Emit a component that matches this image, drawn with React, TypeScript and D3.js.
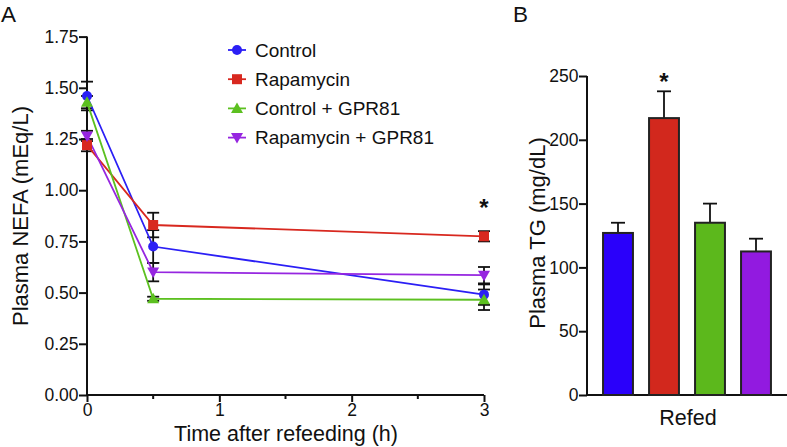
import * as d3 from "d3";
import { useEffect, useRef } from "react";

// panel A data
const times = [0, 0.5, 3];
const seriesNames = ["Control", "Rapamycin", "Control + GPR81", "Rapamycin + GPR81"];
const seriesColors = ["#2b1ff5", "#d8281f", "#5cc020", "#9626e0"];
const controlMean = [1.46, 0.725, 0.49];
const controlErr = [0.07, 0.08, 0.05];
const rapaMean = [1.22, 0.83, 0.775];
const rapaErr = [0.03, 0.06, 0.025];
const gprMean = [1.43, 0.47, 0.465];
const gprErr = [0.03, 0.01, 0.05];
const rapaGprMean = [1.265, 0.6, 0.585];
const rapaGprErr = [0.025, 0.045, 0.04];
const yTicksA = [0, 0.25, 0.5, 0.75, 1.0, 1.25, 1.5, 1.75];
const xTicksA = [0, 1, 2, 3];
const xMinorA = [0.5, 1.5, 2.5];

// panel B data
const barGroups = ["Control", "Rapamycin", "Control + GPR81", "Rapamycin + GPR81"];
const barValues = [127, 217, 135, 112.5];
const barErr = [8, 21, 15, 10];
const barColors = ["#2a00fa", "#d2281d", "#5cb81c", "#921ae0"];
const yTicksB = [0, 50, 100, 150, 200, 250];

const FONT = "'Liberation Sans', Arial, sans-serif";

export default function App() {
  const ref = useRef<SVGSVGElement>(null);

  useEffect(() => {
    const svg = d3.select(ref.current);
    svg.selectAll("*").remove();
    svg.style("font-family", FONT);

    // ---------- panel A ----------
    const x = d3.scaleLinear().domain([0, 3]).range([87, 484]);
    const y = d3.scaleLinear().domain([0, 1.75]).range([395, 36.6]);

    const gA = svg.append("g");
    const yAxis = d3.axisLeft(y).tickValues(yTicksA).tickFormat(d3.format(".2f")).tickSize(8).tickSizeOuter(0);
    gA.append("g")
      .attr("transform", "translate(87,0)")
      .call(yAxis)
      .call((g) => g.select(".domain").attr("stroke", "#111").attr("stroke-width", 2).attr("d", `M0,${y(0)}V${y(1.75)}`))
      .call((g) => g.selectAll(".tick line").attr("stroke", "#111").attr("stroke-width", 2))
      .call((g) => g.selectAll(".tick text").attr("font-size", 17.5).attr("font-family", FONT).attr("fill", "#111").attr("x", -8.5));

    const xAxis = d3.axisBottom(x).tickValues(xTicksA).tickFormat(d3.format("d")).tickSize(7).tickSizeOuter(0);
    gA.append("g")
      .attr("transform", "translate(0,395)")
      .call(xAxis)
      .call((g) => g.select(".domain").attr("stroke", "#111").attr("stroke-width", 2).attr("d", `M${x(0)},0H${x(3)}`))
      .call((g) => g.selectAll(".tick line").attr("stroke", "#111").attr("stroke-width", 2))
      .call((g) => g.selectAll(".tick text").attr("font-size", 17.5).attr("font-family", FONT).attr("fill", "#111").attr("y", 9));
    gA.append("g")
      .selectAll("line")
      .data(xMinorA)
      .join("line")
      .attr("x1", (d) => x(d))
      .attr("x2", (d) => x(d))
      .attr("y1", 395)
      .attr("y2", 399)
      .attr("stroke", "#111")
      .attr("stroke-width", 2);

    gA.append("text")
      .attr("x", 286)
      .attr("y", 441)
      .attr("text-anchor", "middle")
      .attr("font-size", 21.5)
      .attr("fill", "#111")
      .text("Time after refeeding (h)");
    gA.append("text")
      .attr("transform", "translate(28,216) rotate(-90)")
      .attr("text-anchor", "middle")
      .attr("font-size", 22)
      .attr("fill", "#111")
      .text("Plasma NEFA (mEq/L)");
    svg.append("text").attr("x", 1).attr("y", 22).attr("font-size", 22.5).attr("fill", "#111").text("A");

    const means = [controlMean, rapaMean, gprMean, rapaGprMean];
    const errs = [controlErr, rapaErr, gprErr, rapaGprErr];
    const line = d3.line<number>().x((_, i) => x(times[i])).y((d) => y(d));

    // error bars
    means.forEach((m, s) => {
      m.forEach((v, i) => {
        const e = errs[s][i];
        const cx = x(times[i]);
        const eb = gA.append("g").attr("stroke", "#111").attr("stroke-width", 1.8);
        eb.append("line").attr("x1", cx).attr("x2", cx).attr("y1", y(v - e)).attr("y2", y(v + e));
        [v - e, v + e].forEach((c) =>
          eb.append("line").attr("x1", cx - 6).attr("x2", cx + 6).attr("y1", y(c)).attr("y2", y(c))
        );
      });
    });

    // lines + markers
    means.forEach((m, s) => {
      gA.append("path").attr("d", line(m)).attr("fill", "none").attr("stroke", seriesColors[s]).attr("stroke-width", 1.8);
    });
    const marker = (g: any, s: number, cx: number, cy: number) => {
      const c = seriesColors[s];
      if (s === 0) g.append("circle").attr("cx", cx).attr("cy", cy).attr("r", 5).attr("fill", c);
      else if (s === 1) g.append("rect").attr("x", cx - 5).attr("y", cy - 5).attr("width", 10).attr("height", 10).attr("fill", c);
      else if (s === 2) g.append("path").attr("d", `M${cx},${cy - 6}L${cx + 6},${cy + 4.5}L${cx - 6},${cy + 4.5}Z`).attr("fill", c);
      else g.append("path").attr("d", `M${cx},${cy + 6}L${cx + 6},${cy - 4.5}L${cx - 6},${cy - 4.5}Z`).attr("fill", c);
    };
    means.forEach((m, s) => {
      m.forEach((v, i) => marker(gA, s, x(times[i]), y(v)));
    });

    gA.append("text").attr("x", x(3)).attr("y", y(0.775) - 20).attr("text-anchor", "middle").attr("font-size", 24).attr("font-weight", "bold").attr("fill", "#111").text("*");

    // legend
    const leg = gA.append("g");
    seriesNames.forEach((n, s) => {
      const ly = 50 + s * 29.2;
      leg.append("line").attr("x1", 228).attr("x2", 246).attr("y1", ly).attr("y2", ly).attr("stroke", seriesColors[s]).attr("stroke-width", 1.8);
      marker(leg, s, 237, ly);
      leg.append("text").attr("x", 255).attr("y", ly + 6.5).attr("font-size", 19).attr("fill", "#111").text(n);
    });

    // ---------- panel B ----------
    const xb = d3.scaleBand<string>().domain(barGroups).range([595, 779]).paddingInner(0.35).paddingOuter(0.175);
    const yb = d3.scaleLinear().domain([0, 250]).range([395, 76]);
    const gB = svg.append("g");

    gB.append("g")
      .attr("transform", "translate(587,0)")
      .call(d3.axisLeft(yb).tickValues(yTicksB).tickSize(8).tickSizeOuter(0))
      .call((g) => g.select(".domain").attr("stroke", "#111").attr("stroke-width", 2).attr("d", `M0,${yb(0)}V${yb(250)}`))
      .call((g) => g.selectAll(".tick line").attr("stroke", "#111").attr("stroke-width", 2))
      .call((g) => g.selectAll(".tick text").attr("font-size", 17.5).attr("font-family", FONT).attr("fill", "#111").attr("x", -8.5));
    gB.append("line").attr("x1", 587).attr("x2", 787).attr("y1", 395).attr("y2", 395).attr("stroke", "#111").attr("stroke-width", 2);

    // error bars (upper only)
    barGroups.forEach((gname, i) => {
      const cx = (xb(gname) as number) + xb.bandwidth() / 2;
      gB.append("line").attr("x1", cx).attr("x2", cx).attr("y1", yb(barValues[i])).attr("y2", yb(barValues[i] + barErr[i])).attr("stroke", "#111").attr("stroke-width", 1.8);
      gB.append("line").attr("x1", cx - 7).attr("x2", cx + 7).attr("y1", yb(barValues[i] + barErr[i])).attr("y2", yb(barValues[i] + barErr[i])).attr("stroke", "#111").attr("stroke-width", 1.8);
    });
    gB.selectAll("rect.bar")
      .data(barValues)
      .join("rect")
      .attr("class", "bar")
      .attr("x", (_, i) => xb(barGroups[i]) as number)
      .attr("y", (d) => yb(d))
      .attr("width", xb.bandwidth())
      .attr("height", (d) => yb(0) - yb(d))
      .attr("fill", (_, i) => barColors[i])
      .attr("stroke", "#222")
      .attr("stroke-width", 2);

    const redX = (xb(barGroups[1]) as number) + xb.bandwidth() / 2;
    gB.append("text").attr("x", redX).attr("y", yb(250) + 14).attr("text-anchor", "middle").attr("font-size", 24).attr("font-weight", "bold").attr("fill", "#111").text("*");

    gB.append("text").attr("x", 688).attr("y", 425).attr("text-anchor", "middle").attr("font-size", 21.5).attr("fill", "#111").text("Refed");
    gB.append("text")
      .attr("transform", "translate(545,233) rotate(-90)")
      .attr("text-anchor", "middle")
      .attr("font-size", 22)
      .attr("fill", "#111")
      .text("Plasma TG (mg/dL)");
    svg.append("text").attr("x", 513).attr("y", 22).attr("font-size", 22.5).attr("fill", "#111").text("B");
  }, []);

  return (
    <svg
      ref={ref}
      width={787}
      height={447}
      style={{ position: "absolute", left: 0, top: 0, background: "#fff" }}
    />
  );
}
